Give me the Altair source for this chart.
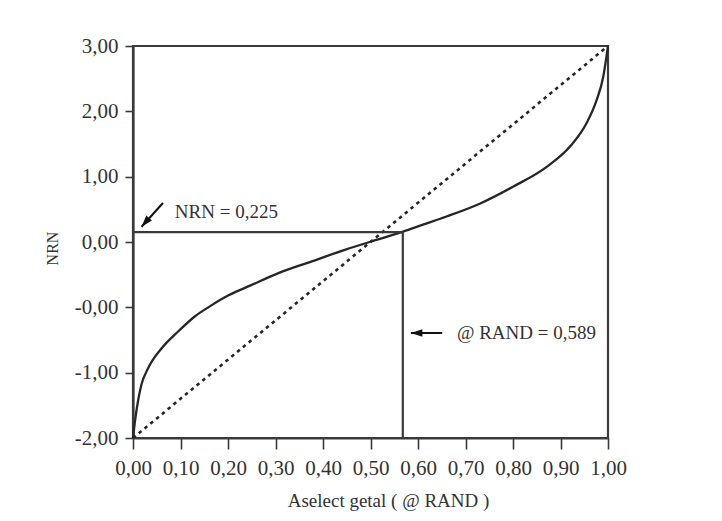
import altair as alt
import pandas as pd

# ---- data ----
curve_x = [0.0, 0.005, 0.0175, 0.032, 0.060, 0.095, 0.130, 0.165, 0.200, 0.249,
           0.305, 0.375, 0.446, 0.516, 0.565, 0.600, 0.660, 0.731, 0.801, 0.871,
           0.920, 0.955, 0.976, 0.990, 0.997, 1.0]
curve_y = [-3.0, -2.70, -2.19, -1.93, -1.63, -1.37, -1.14, -0.97, -0.82, -0.66,
           -0.48, -0.30, -0.12, 0.04, 0.15, 0.24, 0.39, 0.59, 0.85, 1.15,
           1.46, 1.82, 2.17, 2.53, 2.85, 3.0]

diag_x = [0.0, 1.0]
diag_y = [-3.0, 3.0]

guide_x = [0.0, 0.568]
guide_x2 = [0.568, 0.568]
guide_y = [0.15, -3.0]
guide_y2 = [0.15, 0.15]

x_ticks = [0.0, 0.1, 0.2, 0.3, 0.4, 0.5, 0.6, 0.7, 0.8, 0.9, 1.0]
y_ticks = [-3, -2, -1, 0, 1, 2, 3]
y_tick_labels = ["-2,00", "-1,00", "-0,00", "0,00", "1,00", "2,00", "3,00"]

label_text = ["NRN = 0,225", "@ RAND = 0,589"]
label_x = [0.088, 0.682]
label_y = [0.459, -1.393]

arrow_tail_x = [0.063, 0.651]
arrow_tail_y = [0.597, -1.393]
arrow_tip_x = [0.018, 0.585]
arrow_tip_y = [0.234, -1.393]
arrow_angle = [221, 270]

x_title = "Aselect getal ( @ RAND )"
y_title = "NRN"

# ---- tables ----
curve_df = pd.DataFrame({"x": curve_x, "y": curve_y})
diag_df = pd.DataFrame({"x": diag_x, "y": diag_y})
guide_df = pd.DataFrame({"x": guide_x, "x2": guide_x2, "y": guide_y, "y2": guide_y2})
label_df = pd.DataFrame({"t": label_text, "x": label_x, "y": label_y})
arrow_df = pd.DataFrame({"tx": arrow_tail_x, "ty": arrow_tail_y,
                         "hx": arrow_tip_x, "hy": arrow_tip_y, "a": arrow_angle})

FONT = "Liberation Serif"
INK = "#262626"

xscale = alt.Scale(domain=[0, 1], nice=False, zero=False)
yscale = alt.Scale(domain=[-3, 3], nice=False, zero=False)

y_expr = ("[" + ",".join("'%s'" % s for s in y_tick_labels) + "][indexof(["
          + ",".join(str(v) for v in y_ticks) + "], datum.value)]")

x_axis = alt.Axis(values=x_ticks, labelExpr="replace(format(datum.value, '.2f'), '.', ',')",
                  title=x_title, tickSize=11, labelPadding=8, labelFontSize=21,
                  titleX=255, titleY=62, titleAlign="center", titleBaseline="middle",
                  titleFontSize=19)
y_axis = alt.Axis(values=y_ticks, labelExpr=y_expr, title=y_title, tickSize=8,
                  labelPadding=7, labelFontSize=21, titleX=-81, titleY=202,
                  titleAngle=270, titleAlign="center", titleBaseline="middle",
                  titleFontSize=16)


def X(field):
    return alt.X(field, scale=xscale, axis=x_axis, title=x_title)


def Y(field):
    return alt.Y(field, scale=yscale, axis=y_axis, title=y_title)


curve = alt.Chart(curve_df).mark_line(color=INK, strokeWidth=2.3, interpolate="monotone").encode(
    x=X("x:Q"), y=Y("y:Q"),
)

diag = alt.Chart(diag_df).mark_line(color=INK, strokeWidth=2.6, strokeDash=[3.5, 4]).encode(
    x=X("x:Q"), y=Y("y:Q"),
)

guides = alt.Chart(guide_df).mark_rule(color="#3a3a3a", strokeWidth=2.2).encode(
    x=X("x:Q"), x2="x2:Q", y=Y("y:Q"), y2="y2:Q",
)

arrow_lines = alt.Chart(arrow_df).mark_rule(color="#111", strokeWidth=2).encode(
    x=X("tx:Q"), x2="hx:Q", y=Y("ty:Q"), y2="hy:Q",
)

arrow_heads = alt.Chart(arrow_df).mark_point(
    shape="M0,0 L0.75,2.3 L-0.75,2.3 Z", filled=True, color="#111", opacity=1, size=100
).encode(
    x=X("hx:Q"), y=Y("hy:Q"),
    angle=alt.Angle("a:Q", scale=None),
)

labels = alt.Chart(label_df).mark_text(
    align="left", baseline="middle", font=FONT, fontSize=19, color="#333"
).encode(
    x=X("x:Q"), y=Y("y:Q"), text="t:N",
)

chart = alt.layer(curve, diag, guides, arrow_lines, arrow_heads, labels).properties(
    width=475, height=392,
    autosize=alt.AutoSizeParams(type="none"),
    padding={"left": 133, "top": 46, "right": 114, "bottom": 83},
    background="white",
).configure_view(
    stroke="#3a3a3a", strokeWidth=2.2
).configure_axis(
    grid=False, domainColor="#3a3a3a", domainWidth=2.2, tickColor="#3a3a3a",
    tickWidth=1.6, labelFont=FONT, titleFont=FONT, labelColor="#333",
    titleColor="#333", titleFontWeight="normal", labelFlush=False, labelOverlap=False,
)

chart.save("out.html", embed_options={"renderer": "svg", "actions": False})
